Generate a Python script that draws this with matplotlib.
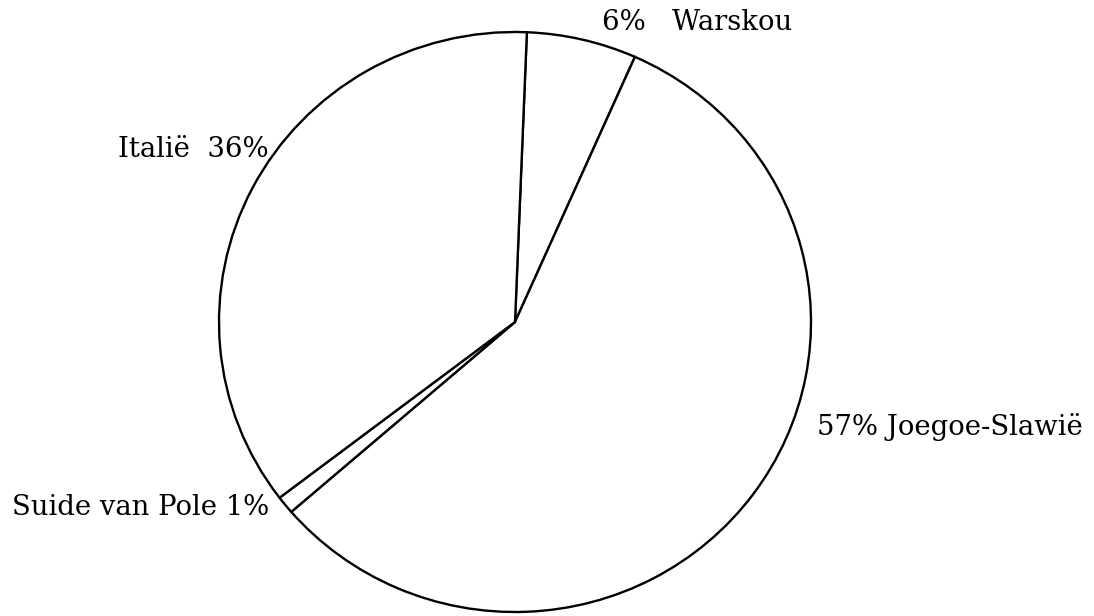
import matplotlib.pyplot as plt

countries = ['Warskou', 'Joegoe-Slawië', 'Suide van Pole', 'Italië']
shares = [6, 57, 1, 36]

fig = plt.figure(figsize=(10.94, 6.16), dpi=100)
ax = fig.add_axes([219 / 1094, 4 / 616, 592 / 1094, 580 / 616])
ax.pie(shares, startangle=87.7, counterclock=False, radius=1,
       colors=['white'] * len(shares),
       wedgeprops=dict(edgecolor='black', linewidth=1.7))
ax.set_aspect('auto')
ax.set_xlim(-1, 1)
ax.set_ylim(-1, 1)
ax.axis('off')

pct = ['%d%%' % s for s in shares]
font = dict(family=['DejaVu Serif'], fontsize=19.8, color='black', va='baseline', ha='left')
ax.text(0.294, 1.007, pct[0] + '   ' + countries[0], **font)
ax.text(1.020, -0.390, pct[1] + ' ' + countries[1], **font)
ax.text(-1.699, -0.666, countries[2] + ' ' + pct[2], **font)
ax.text(-1.341, 0.569, countries[3] + '  ' + pct[3], **font)

fig.savefig('out.png', dpi=100)
